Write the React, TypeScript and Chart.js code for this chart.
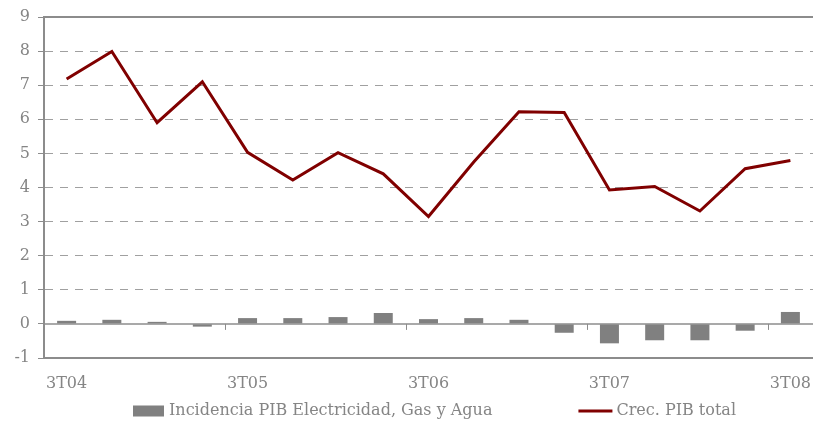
import React, { useEffect, useRef } from 'react';
import { Chart, registerables } from 'chart.js';

Chart.register(...registerables);

const categories = ['3T04', '4T04', '1T05', '2T05', '3T05', '4T05', '1T06', '2T06', '3T06', '4T06', '1T07', '2T07', '3T07', '4T07', '1T08', '2T08', '3T08'];
const incidenciaValues = [0.09, 0.12, 0.06, -0.08, 0.17, 0.17, 0.2, 0.32, 0.14, 0.17, 0.12, -0.26, -0.57, -0.48, -0.48, -0.2, 0.35];
const crecPibValues = [7.18, 7.99, 5.9, 7.1, 5.03, 4.22, 5.02, 4.4, 3.15, 4.75, 6.22, 6.2, 3.93, 4.03, 3.31, 4.55, 4.79];
const yMin = -1;
const yMax = 9;
const labelEvery = 4;
const seriesNames = ['Incidencia PIB Electricidad, Gas y Agua', 'Crec. PIB total'];

const FONT = "'DejaVu Serif', serif";
const TEXT = '#858585';
const AXIS = '#8c8c8c';
const BAR = '#808080';
const LINE = '#800000';

const decorPlugin = {
  id: 'decor',
  beforeDatasetsDraw(chart: any) {
    const { ctx, chartArea, scales } = chart;
    const x = scales.x;
    const y = scales.y;
    const y0 = y.getPixelForValue(0);
    ctx.save();
    ctx.strokeStyle = AXIS;
    ctx.lineWidth = 1.5;
    ctx.beginPath();
    ctx.moveTo(chartArea.left, y0);
    ctx.lineTo(chartArea.right, y0);
    ctx.stroke();
    // top border
    const yTop = y.getPixelForValue(yMax);
    ctx.lineWidth = 2;
    ctx.beginPath();
    ctx.moveTo(chartArea.left, yTop);
    ctx.lineTo(chartArea.right, yTop);
    ctx.stroke();
    // small ticks at zero line between groups
    ctx.lineWidth = 1;
    for (let i = labelEvery; i < categories.length; i += labelEvery) {
      const px = Math.round((x.getPixelForValue(i - 1) + x.getPixelForValue(i)) / 2) + 0.5;
      ctx.beginPath();
      ctx.moveTo(px, y0);
      ctx.lineTo(px, y0 + 6);
      ctx.stroke();
    }
    ctx.restore();
  },
  afterDraw(chart: any) {
    const { ctx, chartArea } = chart;
    ctx.save();
    ctx.font = `16px ${FONT}`;
    ctx.textBaseline = 'middle';
    const w1 = ctx.measureText(seriesNames[0]).width;
    const w2 = ctx.measureText(seriesNames[1]).width;
    const box = 31;
    const lineW = 34;
    const gap = 86;
    const total = box + 5 + w1 + gap + lineW + 4 + w2;
    const cx = (chartArea.left + chartArea.right) / 2 + 6;
    let sx = cx - total / 2;
    const cy = 411;
    ctx.fillStyle = BAR;
    ctx.fillRect(sx, cy - 5.5, box, 11);
    ctx.fillStyle = TEXT;
    ctx.fillText(seriesNames[0], sx + box + 5, cy);
    sx += box + 5 + w1 + gap;
    ctx.strokeStyle = LINE;
    ctx.lineWidth = 3;
    ctx.beginPath();
    ctx.moveTo(sx, cy);
    ctx.lineTo(sx + lineW, cy);
    ctx.stroke();
    ctx.fillText(seriesNames[1], sx + lineW + 4, cy);
    ctx.restore();
  },
};

export default function App() {
  const ref = useRef<HTMLCanvasElement | null>(null);
  useEffect(() => {
    document.body.style.margin = '0';
    const canvas = ref.current;
    if (!canvas) return;
    const chart = new Chart(canvas, {
      type: 'bar',
      data: {
        labels: categories,
        datasets: [
          {
            type: 'line',
            label: seriesNames[1],
            data: crecPibValues,
            borderColor: LINE,
            backgroundColor: LINE,
            borderWidth: 3,
            pointRadius: 0,
            tension: 0,
            order: 0,
          } as any,
          {
            type: 'bar',
            label: seriesNames[0],
            data: incidenciaValues,
            backgroundColor: BAR,
            barPercentage: 0.42,
            categoryPercentage: 1,
            order: 1,
          },
        ],
      },
      options: {
        animation: false,
        responsive: true,
        maintainAspectRatio: false,
        layout: { padding: { top: 17, right: 0, left: 0, bottom: 23 } },
        plugins: { legend: { display: false }, tooltip: { enabled: false } },
        scales: {
          x: {
            offset: true,
            grid: { display: false, drawTicks: false },
            border: { display: true, color: AXIS, width: 2 },
            ticks: {
              autoSkip: false,
              maxRotation: 0,
              padding: 16,
              color: TEXT,
              font: { family: FONT, size: 16 },
              callback: (_v: any, i: number) => (i % labelEvery === 0 ? categories[i] : ''),
            },
            afterFit: (s: any) => {
              s.height = 40;
              s.paddingLeft = 0;
              s.paddingRight = 0;
            },
          },
          y: {
            min: yMin,
            max: yMax,
            ticks: {
              stepSize: 1,
              padding: 8,
              color: TEXT,
              font: { family: FONT, size: 16 },
            },
            grid: {
              color: (c: any) => (c.tick && (c.tick.value === yMax || c.tick.value === 0 || c.tick.value === yMin) ? 'rgba(0,0,0,0)' : '#a0a0a0'),
              tickColor: AXIS,
              tickLength: 6,
              lineWidth: 1,
            },
            border: { display: true, color: AXIS, width: 2, dash: [8, 7] },
            afterFit: (s: any) => {
              s.width = 44;
              s.paddingTop = 0;
              s.paddingBottom = 0;
            },
          },
        },
      },
      plugins: [decorPlugin],
    });
    return () => chart.destroy();
  }, []);
  return (
    <div style={{ position: 'relative', width: 813, height: 421 }}>
      <canvas ref={ref} />
    </div>
  );
}
